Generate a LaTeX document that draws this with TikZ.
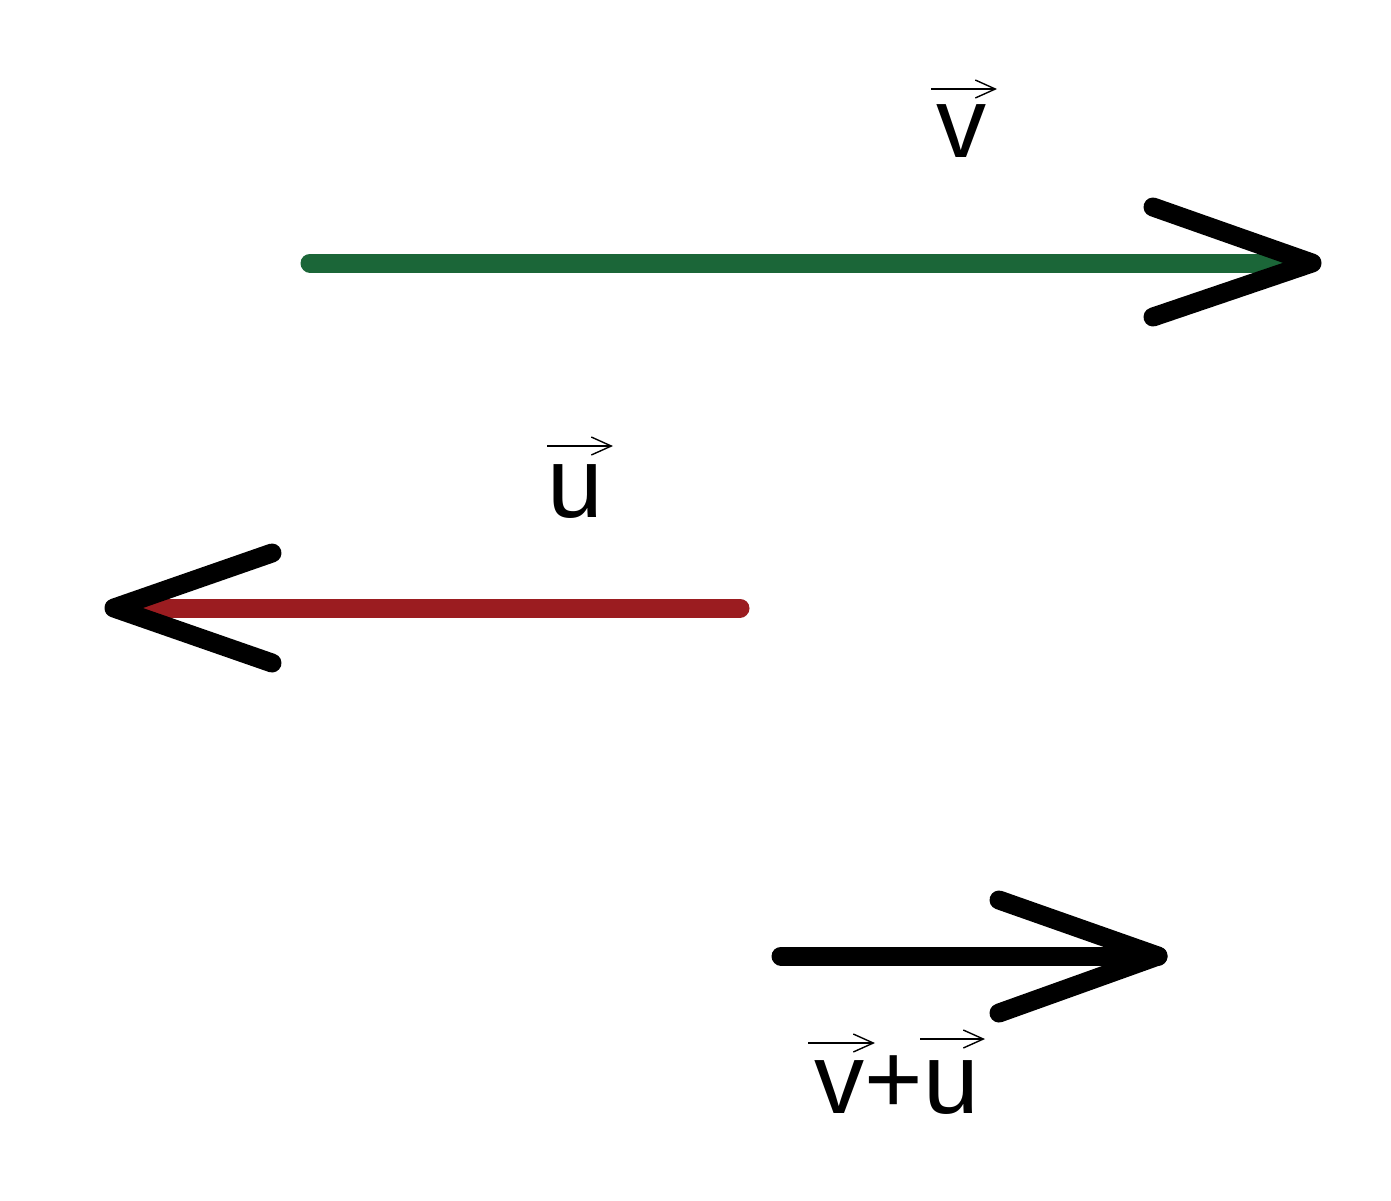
\documentclass[tikz,border=0pt]{standalone}
\usepackage{fontspec}
\setmainfont{Liberation Sans}
\usetikzlibrary{arrows.meta}
\definecolor{vgreen}{RGB}{27,102,56}
\definecolor{ured}{RGB}{155,28,32}
\tikzset{
  shaft/.style={line width=0.19cm, line cap=round},
  head/.style={line width=0.19cm, line cap=round, line join=round, black},
  overarrow/.style={line width=0.4pt, -{Straight Barb[length=0.2cm,width=0.18cm,line width=0.4pt]}},
  lab/.style={anchor=base, inner sep=0pt, font=\fontsize{28.5}{30}\selectfont}
}
\begin{document}
\begin{tikzpicture}
\useasboundingbox (0,0) rectangle (13.91,-12);
% vector v
\coordinate (vS) at (3.1,-2.63);
\coordinate (vT) at (3.12,-2.63);
\coordinate (vE) at (12.85,-2.63);
\coordinate (vTip) at (13.12,-2.63);
\coordinate (vA) at (11.53,-2.07);
\coordinate (vB) at (11.53,-3.17);
\draw[shaft, vgreen] (vS)--(vE);
\draw[head] (vA)--(vTip)--(vB);
\node[lab] (vlab) at (9.62,-1.57) {v};
\draw[overarrow] (9.31,-0.89)--(9.97,-0.89);
% vector u
\coordinate (uS) at (7.40,-6.08);
\coordinate (uE) at (1.50,-6.08);
\coordinate (uTip) at (1.14,-6.08);
\coordinate (uA) at (2.72,-5.53);
\coordinate (uB) at (2.72,-6.63);
\draw[shaft, ured] (uS)--(uE);
\draw[head] (uA)--(uTip)--(uB);
\node[lab] (ulab) at (5.75,-5.17) {u};
\draw[overarrow] (5.47,-4.46)--(6.13,-4.46);
% vector v+u
\coordinate (wS) at (7.81,-9.56);
\coordinate (wTip) at (11.58,-9.56);
\coordinate (wA) at (9.99,-9.00);
\coordinate (wB) at (9.99,-10.13);
\draw[shaft, black] (wS)--(wTip);
\draw[head] (wA)--(wTip)--(wB);
\node[lab] (wlab) at (8.97,-11.13) {v+u};
\draw[overarrow] (8.08,-10.43)--(8.75,-10.43);
\draw[overarrow] (9.20,-10.39)--(9.85,-10.39);
\end{tikzpicture}
\end{document}
